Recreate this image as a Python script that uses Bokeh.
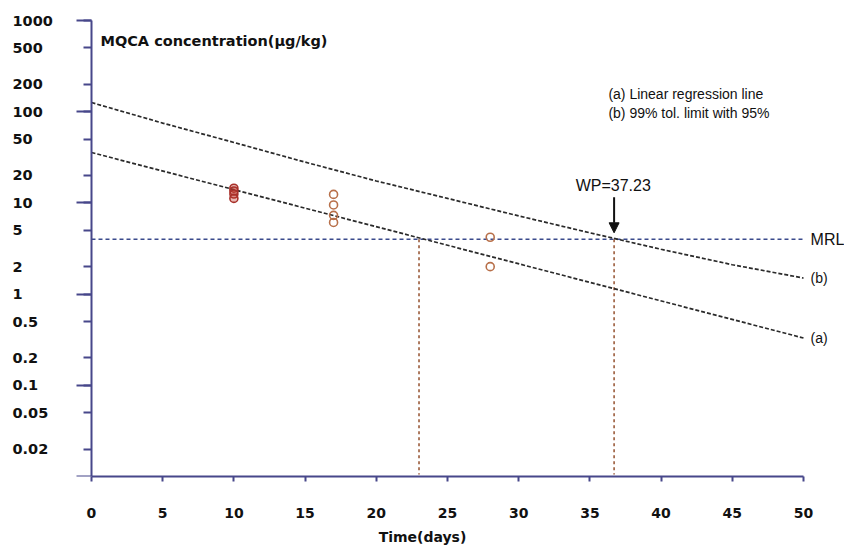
from bokeh.plotting import figure
from bokeh.models import Range1d, FixedTicker, Label, Arrow, NormalHead, CustomJSTickFormatter
from bokeh.embed import file_html
from bokeh.resources import INLINE

# ---------------- data ----------------
day10 = [10, 10, 10, 10]
conc10 = [14.5, 13.5, 12.5, 11.2]
day17 = [17, 17, 17, 17]
conc17 = [12.4, 9.5, 7.3, 6.1]
day28 = [28, 28]
conc28 = [4.2, 2.0]

reg_x = [0, 50]
reg_y = [35.7, 0.33]          # (a) linear regression line

tol_x = [0, 5, 10, 15, 20, 25, 30, 35, 40, 45, 50]
tol_y = [126, 75, 46, 28, 17.4, 11.2, 7.2, 4.7, 3.1, 2.1, 1.5]   # (b) 99% tol. limit

mrl = 4.0
reg_cross = 23.0
wp_pos = 36.7
wp_text = "WP=37.23"

x_ticks = [0, 5, 10, 15, 20, 25, 30, 35, 40, 45, 50]
y_ticks = [0.02, 0.05, 0.1, 0.2, 0.5, 1, 2, 5, 10, 20, 50, 100, 200, 500, 1000]
y_tick_labels = ["0.02", "0.05", "0.1", "0.2", "0.5", "1", "2", "5", "10", "20", "50",
                 "100", "200", "500", "1000"]
y_decades = [0.01, 0.1, 1, 10, 100, 1000]

# ---------------- figure ----------------
AX = "#47478a"
p = figure(width=844, height=548, x_range=Range1d(-6.39, 52.88), y_range=Range1d(0.01, 1657),
           y_axis_type="log", output_backend="svg", toolbar_location=None,
           min_border_left=0, min_border_right=0, min_border_top=0, min_border_bottom=72)
p.outline_line_color = None
p.grid.visible = False
p.background_fill_color = "white"
p.border_fill_color = "white"

# x axis
xa = p.xaxis[0]
xa.ticker = FixedTicker(ticks=x_ticks)
xa.bounds = (x_ticks[0], x_ticks[-1])
xa.axis_line_color = AX
xa.axis_line_width = 2
xa.major_tick_line_color = AX
xa.major_tick_line_width = 2
xa.major_tick_out = 5
xa.major_tick_in = 0
xa.minor_tick_line_color = None
xa.major_label_text_font = "DejaVu Sans"
xa.major_label_text_font_style = "bold"
xa.major_label_text_font_size = "14px"
xa.major_label_text_color = "#111111"
xa.major_label_standoff = 26
xa.axis_label = "Time(days)"
xa.axis_label_text_font = "DejaVu Sans"
xa.axis_label_text_font_style = "bold"
xa.axis_label_text_font_size = "14px"
xa.axis_label_text_color = "#111111"
xa.axis_label_standoff = 8

# y axis, crossing at x = 0
ya = p.yaxis[0]
ya.fixed_location = 0
ya.bounds = (y_decades[0], y_decades[-1])
ya.ticker = FixedTicker(ticks=y_ticks, minor_ticks=y_decades)
ya.axis_line_color = AX
ya.axis_line_width = 2
ya.major_tick_line_color = AX
ya.major_tick_line_width = 2
ya.major_tick_out = 8
ya.major_tick_in = 0
ya.minor_tick_line_color = AX
ya.minor_tick_line_width = 2
ya.minor_tick_out = 15
ya.minor_tick_in = 0
ya.formatter = CustomJSTickFormatter(code="return ''")

# y tick labels, left aligned
for v, t in zip(y_ticks, y_tick_labels):
    p.add_layout(Label(x=-5.55, y=v, text=t, text_font="DejaVu Sans", text_font_style="bold",
                       text_font_size="14.5px", text_color="#111111", text_align="left",
                       text_baseline="middle"))

# reference lines
p.line(x=[x_ticks[0], x_ticks[-1]], y=[mrl, mrl], line_color="#3a4a8c", line_width=1.6,
       line_dash="4 3")
p.line(x=[reg_cross, reg_cross], y=[mrl, 0.0105], line_color="#9a5a3a", line_width=1.6,
       line_dash="3 3")
p.line(x=[wp_pos, wp_pos], y=[mrl, 0.0105], line_color="#9a5a3a", line_width=1.6,
       line_dash="3 3")

# regression and tolerance lines
p.line(x=reg_x, y=reg_y, line_color="#2a2a2a", line_width=1.7, line_dash="4 2")
p.line(x=tol_x, y=tol_y, line_color="#2a2a2a", line_width=1.7, line_dash="4 2")

# data points
p.scatter(x=day10, y=conc10, size=8, marker="circle", fill_color="#c03a2a", fill_alpha=0.35,
          line_color="#a8302a", line_width=1.6)
p.scatter(x=day17, y=conc17, size=8, marker="circle", fill_color=None,
          line_color="#b8704a", line_width=1.6)
p.scatter(x=day28, y=conc28, size=8, marker="circle", fill_color=None,
          line_color="#b8704a", line_width=1.6)

# arrow for WP
p.add_layout(Arrow(x_start=wp_pos, y_start=11.5, x_end=wp_pos, y_end=4.7,
                   line_color="#111111", line_width=2,
                   end=NormalHead(size=10, fill_color="#111111", line_color="#111111")))

def lab(x, y, text, size="14px", font="Liberation Sans", style="normal", align="left"):
    p.add_layout(Label(x=x, y=y, text=text, text_font=font, text_font_style=style,
                       text_font_size=size, text_color="#111111", text_align=align,
                       text_baseline="middle"))

lab(0.63, 600, "MQCA concentration(\u00b5g/kg)", size="14.5px", font="DejaVu Sans", style="bold")
lab(36.3, 158, "(a) Linear regression line")
lab(36.3, 98, "(b) 99% tol. limit with 95%")
lab(34.0, 15.5, wp_text, size="16px")
lab(50.5, mrl, "MRL", size="16px")
lab(50.5, tol_y[-1], "(b)")
lab(50.5, reg_y[-1], "(a)")

open("out.html", "w").write(file_html(p, INLINE))
